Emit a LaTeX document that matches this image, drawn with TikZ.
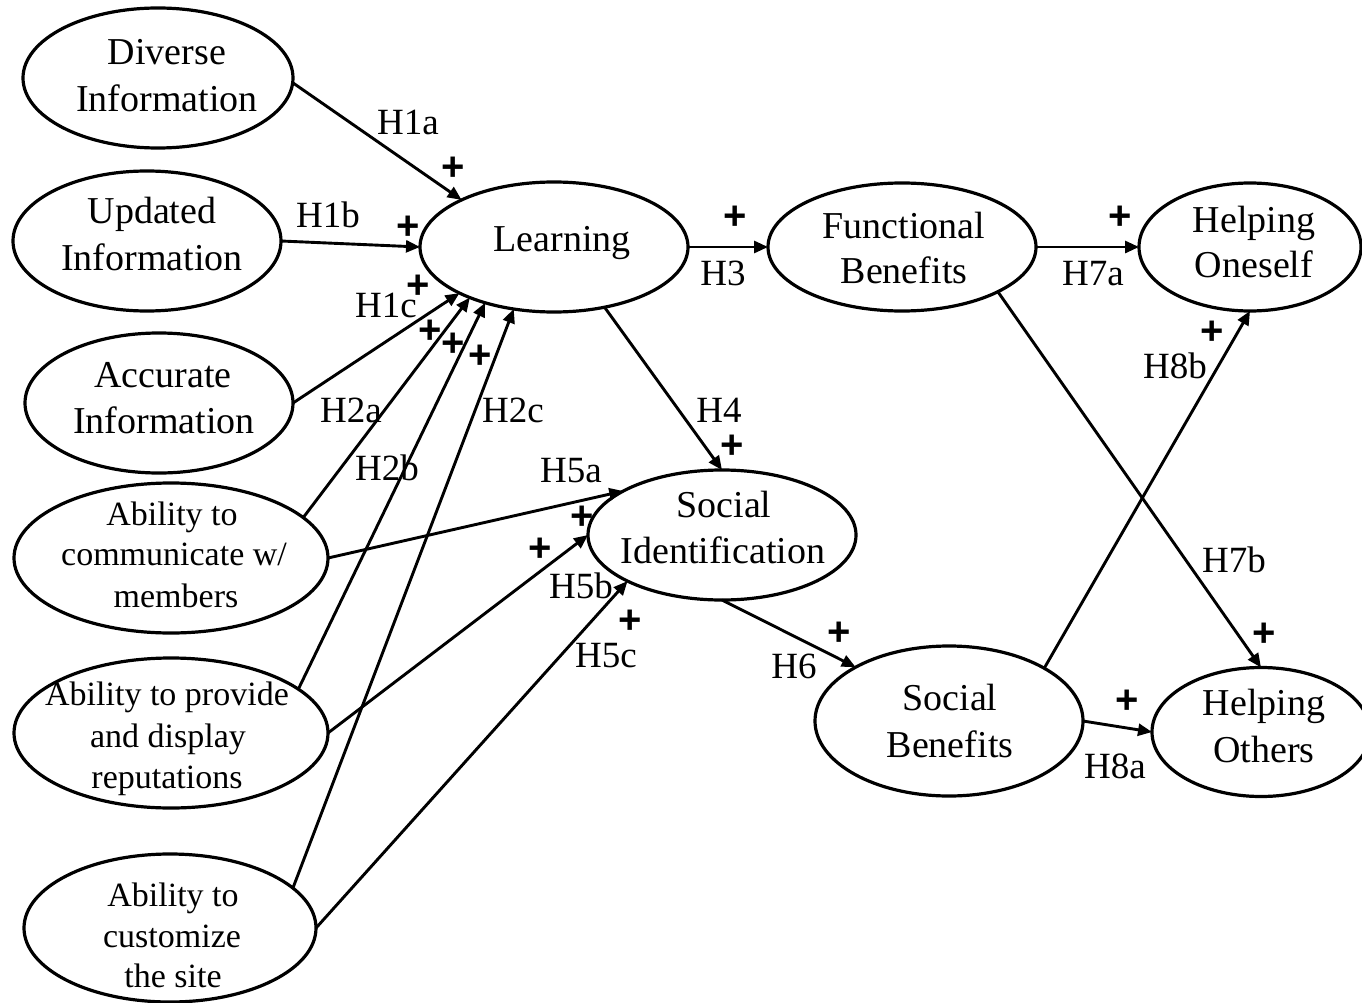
\documentclass[tikz,border=0pt]{standalone}
\usepackage{fontspec}
\setmainfont{Liberation Serif}
\newfontfamily\plusfont{Liberation Sans}
\usetikzlibrary{arrows.meta,shapes.geometric}
\begin{document}
\begin{tikzpicture}[x=1pt,y=-1pt,
  ell/.style={draw, ellipse, line width=3.2pt, inner sep=0pt, outer sep=0pt},
  big/.style={font=\fontsize{38}{46}\selectfont, inner sep=0pt, anchor=base},
  small/.style={font=\fontsize{34}{41}\selectfont, inner sep=0pt, anchor=base},
  hyp/.style={font=\fontsize{37}{44}\selectfont, inner sep=0pt, anchor=base},
  pls/.style={font=\plusfont\bfseries\fontsize{40}{46}\selectfont, inner sep=0pt},
  arr/.style={line width=2.9pt, -{Triangle[length=14pt,width=12pt]}}]
\useasboundingbox[fill=white] (0,0) rectangle (1362,1003);

% ellipses
\node[ell, minimum width=270, minimum height=140] (div) at (158,78) {};
\node[ell, minimum width=268, minimum height=140] (upd) at (147,241) {};
\node[ell, minimum width=268, minimum height=140] (acc) at (159,403) {};
\node[ell, minimum width=314, minimum height=150] (com) at (171,558) {};
\node[ell, minimum width=314, minimum height=150] (pro) at (171,733) {};
\node[ell, minimum width=292, minimum height=148] (cus) at (170,928) {};
\node[ell, minimum width=268, minimum height=130] (lea) at (554,247) {};
\node[ell, minimum width=268, minimum height=128] (fun) at (902,247) {};
\node[ell, minimum width=222, minimum height=128] (one) at (1250,247) {};
\node[ell, minimum width=268, minimum height=130] (soc) at (722,535) {};
\node[ell, minimum width=268, minimum height=150] (sb) at (949,721) {};
\node[ell, minimum width=218, minimum height=129] (oth) at (1261,732) {};

% texts
\node[big] (divA) at (167,65) {Diverse};
\node[big] (divB) at (167,112) {Information};
\node[big] (updA) at (152,223) {Updated};
\node[big] (updB) at (152,270) {Information};
\node[big] (accA) at (163,387) {Accurate};
\node[big] (accB) at (164,433) {Information};
\node[small] (comA) at (172,525) {Ability to};
\node[small] (comB) at (174,565) {communicate w/};
\node[small] (comC) at (176,607) {members};
\node[small] (proA) at (167,705) {Ability to provide};
\node[small] (proB) at (168,747) {and display};
\node[small] (proC) at (167,788) {reputations};
\node[small] (cusA) at (173,906) {Ability to};
\node[small] (cusB) at (172,947) {customize};
\node[small] (cusC) at (173,987) {the site};
\node[big] (leaA) at (562,251) {Learning};
\node[big] (funA) at (904,238) {Functional};
\node[big] (funB) at (904,283) {Benefits};
\node[big] (oneA) at (1254,232) {Helping};
\node[big] (oneB) at (1254,277) {Oneself};
\node[big] (socA) at (724,517) {Social};
\node[big] (socB) at (723,563) {Identification};
\node[big] (sbA) at (950,710) {Social};
\node[big] (sbB) at (950,757) {Benefits};
\node[big] (othA) at (1264,715) {Helping};
\node[big] (othB) at (1264,762) {Others};

% connectors
\draw[arr] (div.-2) -- (lea.153.4);
\draw[arr] (upd.east) -- (lea.west);
\draw[arr] (acc.east) -- (lea.206.6);
\draw[arr] (com.17) -- (lea.211.4);
\draw[arr] (pro.19) -- (lea.219.2);
\draw[arr] (cus.18.4) -- (lea.237.8);
\draw[arr] (com.east) -- (soc.156);
\draw[arr] (pro.east) -- (soc.west);
\draw[arr] (cus.east) -- (soc.206.3);
\draw[arr] (lea.east) -- (fun.west);
\draw[arr] (lea.-50.4) -- (soc.north);
\draw[arr] (soc.south) -- (sb.150.6);
\draw[arr] (fun.east) -- (one.west);
\draw[arr] (fun.-25.6) -- (oth.north);
\draw[arr] (sb.east) -- (oth.west);
\draw[arr] (sb.29.9) -- (one.south);

% hypothesis labels
\node[hyp] (h1a) at (408,135) {H1a};
\node[hyp] (h1b) at (328,227) {H1b};
\node[hyp] (h1c) at (386,317) {H1c};
\node[hyp] (h2a) at (351,422) {H2a};
\node[hyp] (h2b) at (387,480) {H2b};
\node[hyp] (h2c) at (513,422) {H2c};
\node[hyp] (h3) at (723,285) {H3};
\node[hyp] (h4) at (719,422) {H4};
\node[hyp] (h5a) at (571,482) {H5a};
\node[hyp] (h5b) at (581,598) {H5b};
\node[hyp] (h5c) at (606,667) {H5c};
\node[hyp] (h6) at (794,678) {H6};
\node[hyp] (h7a) at (1093,285) {H7a};
\node[hyp] (h7b) at (1234,572) {H7b};
\node[hyp] (h8a) at (1115,778) {H8a};
\node[hyp] (h8b) at (1175,378) {H8b};

% plus signs
\node[pls] (p1a) at (453,169) {+};
\node[pls] (p1b) at (408,228) {+};
\node[pls] (p1c) at (418,287) {+};
\node[pls] (p2a) at (430,332) {+};
\node[pls] (p2b) at (453,345) {+};
\node[pls] (p2c) at (480,357) {+};
\node[pls] (p3) at (735,218) {+};
\node[pls] (p4) at (732,447) {+};
\node[pls] (p5a) at (582,518) {+};
\node[pls] (p5b) at (540,550) {+};
\node[pls] (p5c) at (630,622) {+};
\node[pls] (p6) at (839,634) {+};
\node[pls] (p7a) at (1120,218) {+};
\node[pls] (p7b) at (1264,635) {+};
\node[pls] (p8a) at (1127,702) {+};
\node[pls] (p8b) at (1212,333) {+};
\end{tikzpicture}
\end{document}
